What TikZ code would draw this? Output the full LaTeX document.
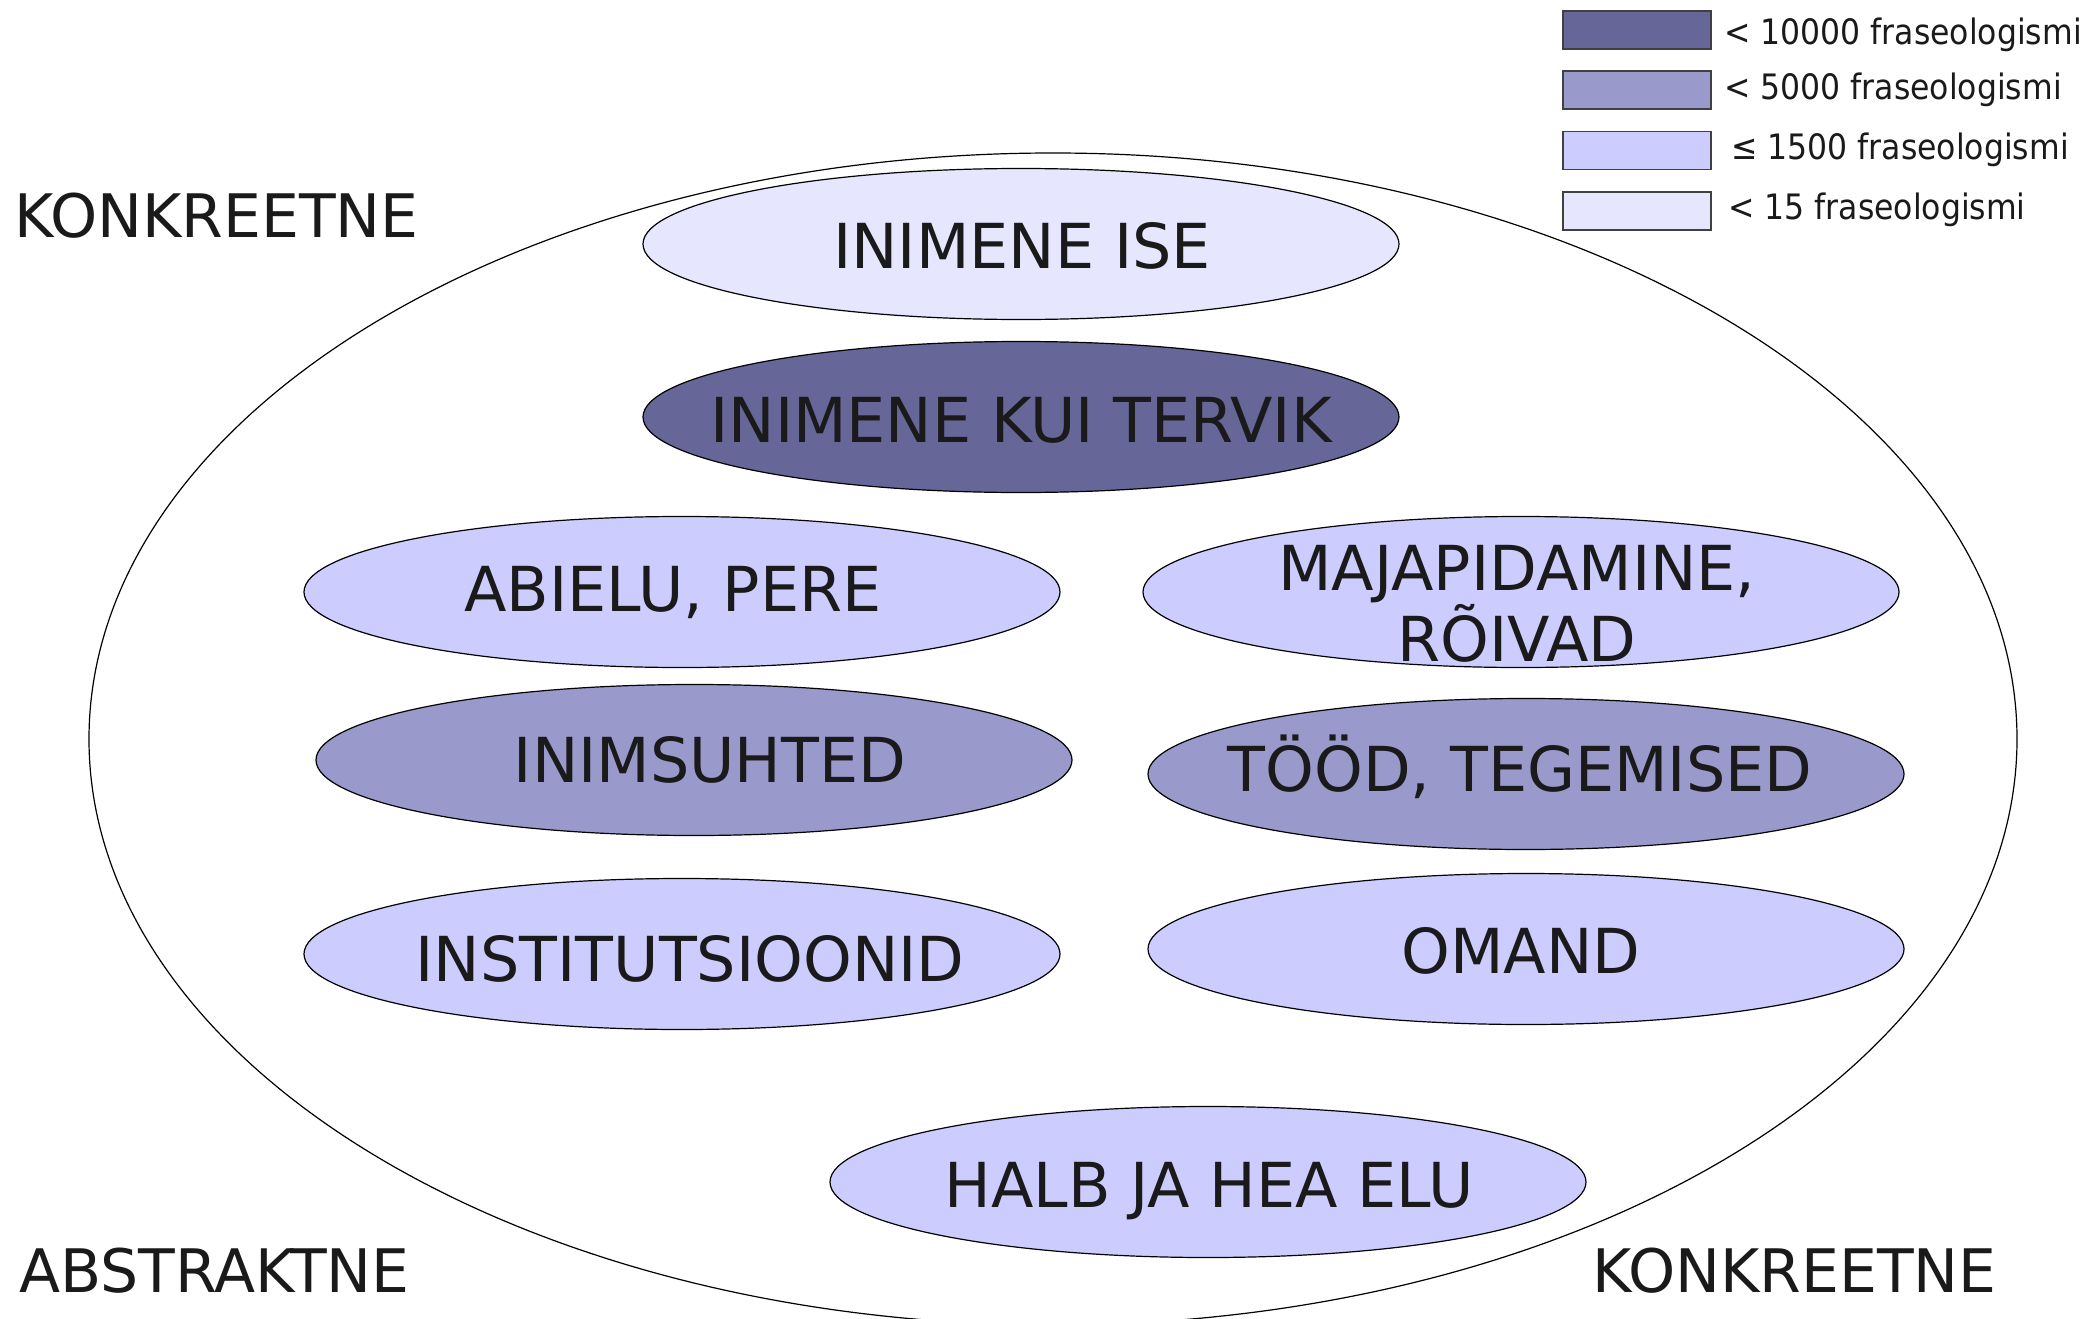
\documentclass[tikz,border=0pt]{standalone}
\usepackage{fontspec}
\setmainfont{DejaVu Sans}
\newfontfamily\legfont{DejaVu Sans}[FakeStretch=0.9]
\usetikzlibrary{shapes.geometric}
\definecolor{cdark}{HTML}{666699}
\definecolor{cmid}{HTML}{9999CC}
\definecolor{clight}{HTML}{CCCCFF}
\definecolor{cpale}{HTML}{E6E6FF}
\definecolor{ctext}{HTML}{1A1A1A}
\begin{document}
\begin{tikzpicture}[x=1pt,y=-1pt,
  ell/.style={ellipse, draw=black, line width=1.2pt, minimum width=756pt, minimum height=151pt, inner sep=0pt},
  lbl/.style={anchor=base, text=ctext, font=\fontsize{62}{70.6}\selectfont, inner sep=0pt, align=center},
  side/.style={anchor=base west, text=ctext, font=\fontsize{60}{66}\selectfont, inner sep=0pt},
  legbox/.style={draw=black!75, line width=1.2pt, minimum width=148pt, minimum height=38pt, inner sep=0pt},
  legtxt/.style={anchor=base west, text=ctext, font=\legfont\fontsize{35}{40}\selectfont, inner sep=0pt}]
\useasboundingbox (0,0) rectangle (2088,1319);
\clip (0,0) rectangle (2088,1319);
\fill[white] (0,0) rectangle (2088,1319);
% outer ellipse
\node[ellipse, draw=black, line width=1.2pt, minimum width=1928pt, minimum height=1172pt, inner sep=0pt] (outer) at (1053,739) {};
% inner ellipses
\node[ell, fill=cpale]  (ise)    at (1021,244) {};
\node[ell, fill=cdark]  (tervik) at (1021,417) {};
\node[ell, fill=clight] (abielu) at (682,592) {};
\node[ell, fill=clight] (maja)   at (1521,592) {};
\node[ell, fill=cmid]   (suhted) at (694,760) {};
\node[ell, fill=cmid]   (tood)   at (1526,774) {};
\node[ell, fill=clight] (inst)   at (682,954) {};
\node[ell, fill=clight] (omand)  at (1526,949) {};
\node[ell, fill=clight] (halb)   at (1208,1182) {};
% labels
\node[lbl] (tise)    at (1022,268.5) {INIMENE ISE};
\node[lbl] (ttervik) at (1021,442.5) {INIMENE KUI TERVIK};
\node[lbl] (tabielu) at (673,611.5) {ABIELU, PERE};
\node[lbl] (tmaja)   at (1517,661) {MAJAPIDAMINE,\\RÕIVAD};
\node[lbl] (tsuhted) at (710,782.5) {INIMSUHTED};
\node[lbl] (ttood)   at (1520,791) {TÖÖD, TEGEMISED};
\node[lbl] (tinst)   at (690,981.5) {INSTITUTSIOONID};
\node[lbl] (tomand)  at (1521,973.5) {OMAND};
\node[lbl] (thalb)   at (1209,1207.5) {HALB JA HEA ELU};
% side labels
\node[side] (konk1) at (14,237) {KONKREETNE};
\node[side] (abstr) at (19,1292) {ABSTRAKTNE};
\node[side] (konk2) at (1592,1292) {KONKREETNE};
% legend
\node[legbox, fill=cdark]  (lb1) at (1637,30) {};
\node[legbox, fill=cmid]   (lb2) at (1637,90) {};
\node[legbox, fill=clight] (lb3) at (1637,150.5) {};
\node[legbox, fill=cpale]  (lb4) at (1637,211) {};
\node[legtxt] (lt1) at (1724,45) {< 10000 fraseologismi};
\node[legtxt] (lt2) at (1724,100) {< 5000 fraseologismi};
\node[legtxt] (lt3) at (1731,160) {≤ 1500 fraseologismi};
\node[legtxt] (lt4) at (1728,219) {< 15 fraseologismi};
\end{tikzpicture}
\end{document}
